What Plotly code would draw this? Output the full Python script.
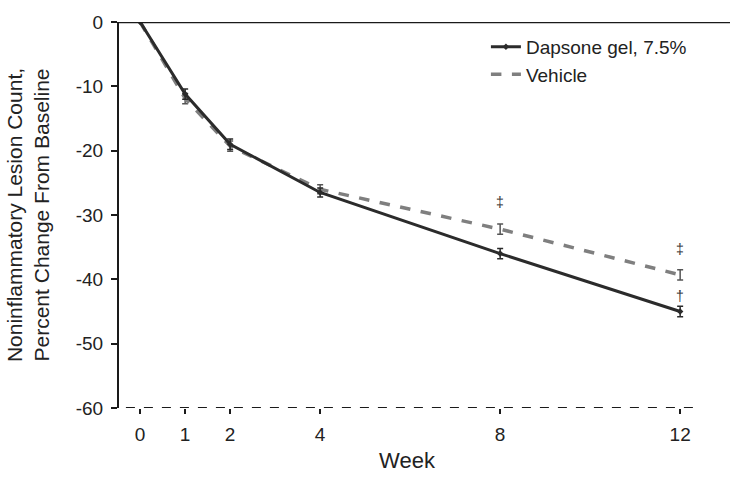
import plotly.graph_objects as go

weeks = [0, 1, 2, 4, 8, 12]
dapsone = [0, -11.2, -19.0, -26.5, -36.0, -45.0]
dapsone_err = [0, 0.8, 0.8, 0.7, 0.8, 0.8]
vehicle = [0, -11.9, -19.3, -26.0, -32.2, -39.3]
vehicle_err = [0, 0.8, 0.8, 0.7, 0.8, 0.8]
tick_vals = [0, 1, 2, 4, 8, 12]
y_ticks = [0, -10, -20, -30, -40, -50, -60]

sig_x = [8, 12, 12]
sig_y = [-28.0, -35.3, -42.6]
sig_text = ["‡", "‡", "†"]

FONT = "Liberation Sans, Arial, sans-serif"

fig = go.Figure()
fig.add_trace(go.Scatter(
    x=weeks, y=vehicle, name="Vehicle", mode="lines",
    line=dict(color="#7f7f7f", width=3.5, dash="dash"),
    error_y=dict(type="data", array=vehicle_err, visible=True,
                 color="#555555", thickness=1.5, width=3),
))
fig.add_trace(go.Scatter(
    x=weeks, y=dapsone, name="Dapsone gel, 7.5%", mode="lines+markers",
    line=dict(color="#2b2b2b", width=3),
    marker=dict(symbol="diamond", size=5, color="#2b2b2b"),
    error_y=dict(type="data", array=dapsone_err, visible=True,
                 color="#2b2b2b", thickness=1.5, width=3),
))

for xv, yv, t in zip(sig_x, sig_y, sig_text):
    fig.add_annotation(x=xv, y=yv, text=t, showarrow=False,
                       font=dict(family=FONT, size=14, color="#333333"))

# top solid line at 0
fig.add_shape(type="line", xref="paper", yref="y", x0=0, x1=1.07, y0=0, y1=0,
              line=dict(color="#1a1a1a", width=2.5), layer="above")
# bottom dashed line at -60
fig.add_shape(type="line", xref="paper", yref="y", x0=0.012, x1=1, y0=-60, y1=-60,
              line=dict(color="#1a1a1a", width=2, dash="dash"), layer="above")

fig.update_layout(
    width=730, height=480,
    margin=dict(l=119, r=35, t=17, b=70),
    plot_bgcolor="white", paper_bgcolor="white",
    font=dict(family=FONT, size=19, color="#222222"),
    legend=dict(x=0.637, y=0.985, xanchor="left", yanchor="top",
                traceorder="reversed", bgcolor="rgba(0,0,0,0)",
                font=dict(size=19), itemwidth=30, tracegroupgap=0),
    showlegend=True,
)
fig.update_xaxes(
    range=[-0.47, 12.33], tickvals=tick_vals, ticktext=[str(v) for v in tick_vals],
    showline=False, showgrid=False, zeroline=False,
    ticks="outside", ticklen=5, tickwidth=1.5, tickcolor="#1a1a1a",
    ticklabelstandoff=4,
    tickfont=dict(size=19), title=dict(text="Week", font=dict(size=22), standoff=8),
)
fig.update_yaxes(
    range=[-60, 0], tickvals=y_ticks, ticktext=[str(v) for v in y_ticks],
    showline=True, linecolor="#1a1a1a", linewidth=2,
    showgrid=False, zeroline=False,
    ticks="outside", ticklen=6, tickwidth=2, tickcolor="#1a1a1a",
    ticklabelstandoff=4,
    tickfont=dict(size=19),
    title=dict(text="Noninflammatory Lesion Count,<br>Percent Change From Baseline",
               font=dict(size=21), standoff=20),
)

fig.write_html("out.html", config={"displayModeBar": False},
               post_script="document.body.style.margin='0';document.body.style.overflow='hidden';")
